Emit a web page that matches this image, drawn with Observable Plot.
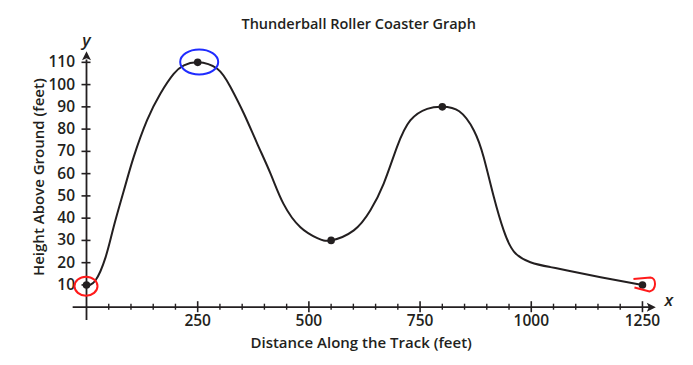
<!DOCTYPE html>
<html><head><meta charset="utf-8">
<script src="https://cdn.jsdelivr.net/npm/d3@7"></script>
<script src="https://cdn.jsdelivr.net/npm/@observablehq/plot@0.6"></script>
<style>body{margin:0;background:#fff}#c{width:693px;height:365px}</style>
</head><body><div id="c"></div>
<script>
const title = "Thunderball Roller Coaster Graph";
const xLabel = "Distance Along the Track (feet)";
const yLabel = "Height Above Ground (feet)";
// track shape
const trackX = [0,20,43,61,84,106,136,166,196,219,250,294,324,354,384,414,443,481,519,550,601,638,668,698,728,766,800,838,871,893,916,938,961,998,1043,1081,1156,1250];
const trackY = [10,12,22.5,36,52.4,67.4,83.9,95.9,104.8,108.6,110,107.1,98.8,86.9,73.4,59.9,46.4,35.9,31,30,34.5,43.4,55.4,71.9,83.9,89.1,90,88,79.4,67.4,49.4,34.5,25,20.2,18,16.5,13.5,10];
// marked points
const pointX = [0,250,550,800,1250];
const pointY = [10,110,30,90,10];
// ticks
const majorXTicks = [250,500,750,1000,1250];
const minorXTicks = [50,100,150,200,300,350,400,450,550,600,650,700,800,850,900,950,1050,1100,1150,1200];
const yTicks = [10,20,30,40,50,60,70,80,90,100,110];
const xAxisExtent = [-30, 1280];
const yAxisExtent = [-6, 115];
// hand-drawn annotations
const markX = [0,250,1250];
const markY = [10,110,10];
const markColor = ["#ff1a1a","#1f2cff","#ff1a1a"];
const markShape = ["ring","oval","hook"];

const track = trackX.map((x,i)=>({x, y: trackY[i]}));
const points = pointX.map((x,i)=>({x, y: pointY[i]}));
const marks = markX.map((x,i)=>({x, y: markY[i], color: markColor[i], shape: markShape[i]}));

const K = 0.5523;
function ellipse(ctx, cx, cy, rx, ry){
  ctx.moveTo(cx+rx, cy);
  ctx.bezierCurveTo(cx+rx, cy+ry*K, cx+rx*K, cy+ry, cx, cy+ry);
  ctx.bezierCurveTo(cx-rx*K, cy+ry, cx-rx, cy+ry*K, cx-rx, cy);
  ctx.bezierCurveTo(cx-rx, cy-ry*K, cx-rx*K, cy-ry, cx, cy-ry);
  ctx.bezierCurveTo(cx+rx*K, cy-ry, cx+rx, cy-ry*K, cx+rx, cy);
  ctx.closePath();
}
const symbols = {
  ring: {draw(ctx){ ellipse(ctx, -0.5, 1.2, 11.5, 9.5); }},
  oval: {draw(ctx){ ellipse(ctx, 1.5, -0.3, 19, 12.5); }},
  hook: {draw(ctx){ ctx.moveTo(-9,-6); ctx.lineTo(8,-7.5); ctx.bezierCurveTo(14,-7,14.5,5,7,6.5); ctx.lineTo(-8,2.5); }}
};
const arrowHead = {draw(ctx){ ctx.moveTo(0,0); ctx.lineTo(-4.5,9); ctx.lineTo(0,7); ctx.lineTo(4.5,9); ctx.closePath(); }};

const ink = "#231f20";
const font = "'Open Sans', sans-serif";

const chart = Plot.plot({
  width: 693, height: 365,
  marginLeft: 86, marginRight: 37.7, marginTop: 50.7, marginBottom: 58.3,
  x: {domain: [0, xAxisExtent[1]], axis: null},
  y: {domain: [0, yAxisExtent[1]], axis: null},
  style: {fontFamily: font, fontSize: "15px", color: ink, background: "#fff", overflow: "visible"},
  marks: [
    // axes lines
    Plot.ruleY([0], {x1: xAxisExtent[0], x2: xAxisExtent[1] - 8, stroke: ink, strokeWidth: 1.8}),
    Plot.ruleX([0], {y1: yAxisExtent[0], y2: yAxisExtent[1] - 4, stroke: ink, strokeWidth: 1.8}),
    Plot.dot([{x: xAxisExtent[1], y: 0}], {x: "x", y: "y", symbol: arrowHead, rotate: 90, fill: ink, stroke: null, r: 5}),
    Plot.dot([{x: 0, y: yAxisExtent[1]}], {x: "x", y: "y", symbol: arrowHead, rotate: 0, fill: ink, stroke: null, r: 5}),
    // ticks
    Plot.axisY(yTicks, {anchor: "left", tickSize: 9, dx: 4.5, tickPadding: 7, strokeWidth: 1.6, fontWeight: 600, fontSize: 15.5, label: null, tickFormat: d => String(d)}),
    Plot.axisX(majorXTicks, {anchor: "bottom", tickSize: 11, dy: -5.5, tickPadding: 2, strokeWidth: 1.6, fontWeight: 600, fontSize: 15.5, label: null, tickFormat: d => String(d)}),
    Plot.axisX(minorXTicks, {anchor: "bottom", tickSize: 6, dy: -3, strokeWidth: 1.4, tickFormat: () => "", label: null}),
    // track
    Plot.line(track, {x: "x", y: "y", curve: "natural", stroke: ink, strokeWidth: 2}),
    Plot.dot(points, {x: "x", y: "y", r: 3.8, fill: ink, stroke: null}),
    // annotations
    ...["ring","oval","hook"].map(s => Plot.dot(marks.filter(d => d.shape === s), {x: "x", y: "y", symbol: symbols[s], r: 5, stroke: "color", fill: "none", strokeWidth: 2})),
    // texts
    Plot.text([title], {frameAnchor: "top", textAnchor: "middle", dx: -12.5, dy: -32, fontSize: 14.5, fontWeight: 600, fill: ink}),
    Plot.text([xLabel], {frameAnchor: "bottom", textAnchor: "middle", dx: -10, dy: 41, fontSize: 15, fontWeight: 600, fill: ink}),
    Plot.text([yLabel], {frameAnchor: "left", textAnchor: "middle", rotate: -90, dx: -47.5, dy: -2, fontSize: 15, fontWeight: 600, fill: ink}),
    Plot.text(["y"], {frameAnchor: "top-left", textAnchor: "middle", dy: -17, fontSize: 17, fontStyle: "italic", fontWeight: 600, fill: ink}),
    Plot.text(["x"], {frameAnchor: "bottom-right", textAnchor: "middle", dx: 13, dy: -1, fontSize: 17, fontStyle: "italic", fontWeight: 600, fill: ink})
  ]
});
document.getElementById("c").appendChild(chart);
</script>
</body></html>
